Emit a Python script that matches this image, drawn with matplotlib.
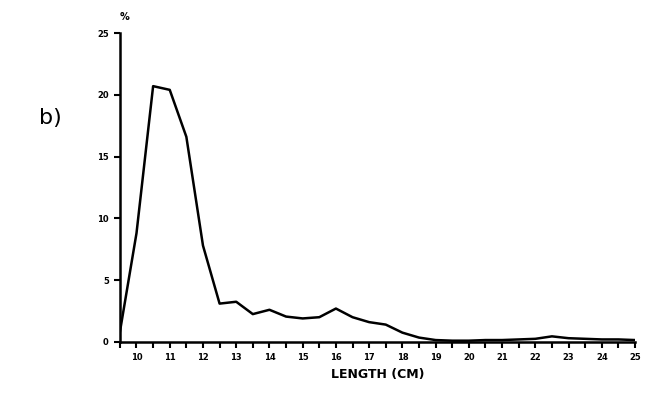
import numpy as np
import matplotlib.pyplot as plt

# length classes (cm) and percentage frequency
length = np.arange(9.5, 25.01, 0.5)
percent = [0.8, 8.8, 20.7, 20.4, 16.6, 7.8, 3.1, 3.25, 2.25, 2.6, 2.05, 1.9, 2.0, 2.7,
           2.0, 1.6, 1.4, 0.75, 0.35, 0.15, 0.1, 0.1, 0.15, 0.15, 0.2, 0.25, 0.45, 0.3,
           0.25, 0.2, 0.2, 0.15]
yticks = [0, 5, 10, 15, 20, 25]

fig = plt.figure(figsize=(6.48, 3.93), dpi=100)
ax = fig.add_axes([0.185, 0.13, 0.795, 0.786])

ax.plot(length, percent, color='black', lw=1.8)

ax.set_xlim(9.5, 25)
ax.set_ylim(0, 25)
ax.set_xticks(np.arange(9.5, 25.01, 0.5))
ax.set_xticklabels(['' if v % 1 else str(int(v)) for v in np.arange(9.5, 25.01, 0.5)],
                   fontsize=6, fontweight='bold')
ax.set_yticks(yticks)
ax.set_yticklabels([str(v) for v in yticks], fontsize=6, fontweight='bold')
ax.tick_params(axis='both', width=1.5, length=4, pad=4)
for s in ['top', 'right']:
    ax.spines[s].set_visible(False)
for s in ['left', 'bottom']:
    ax.spines[s].set_linewidth(1.8)

ax.set_xlabel('LENGTH (CM)', fontsize=9, fontweight='bold', labelpad=4)
ax.text(0.0, 1.035, '%', transform=ax.transAxes, fontsize=7, fontweight='bold',
        ha='left', va='bottom')
fig.text(0.077, 0.70, 'b)', fontsize=16, ha='center', va='center')

fig.savefig('out.png', dpi=100)
